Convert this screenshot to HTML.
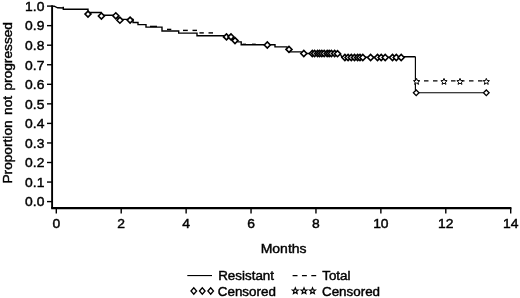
<!DOCTYPE html>
<html><head><meta charset="utf-8"><title>Proportion not progressed</title>
<style>html,body{margin:0;padding:0;background:#fff}svg{display:block}</style></head>
<body>
<svg width="520" height="298" viewBox="0 0 520 298">
<rect width="520" height="298" fill="#fff"/>
<path d="M52.1 5.3V208.2" fill="none" stroke="#000" stroke-width="1.9"/>
<path d="M51.15 208.2H511.45" fill="none" stroke="#000" stroke-width="2.2"/>
<path d="M47 6.10H52" stroke="#000" stroke-width="1.4"/>
<path d="M47 25.65H52" stroke="#000" stroke-width="1.4"/>
<path d="M47 45.20H52" stroke="#000" stroke-width="1.4"/>
<path d="M47 64.75H52" stroke="#000" stroke-width="1.4"/>
<path d="M47 84.30H52" stroke="#000" stroke-width="1.4"/>
<path d="M47 103.85H52" stroke="#000" stroke-width="1.4"/>
<path d="M47 123.40H52" stroke="#000" stroke-width="1.4"/>
<path d="M47 142.95H52" stroke="#000" stroke-width="1.4"/>
<path d="M47 162.50H52" stroke="#000" stroke-width="1.4"/>
<path d="M47 182.05H52" stroke="#000" stroke-width="1.4"/>
<path d="M47 201.60H52" stroke="#000" stroke-width="1.4"/>
<path d="M56.30 208.3V213.5" stroke="#000" stroke-width="1.4"/>
<path d="M121.21 208.3V213.5" stroke="#000" stroke-width="1.4"/>
<path d="M186.13 208.3V213.5" stroke="#000" stroke-width="1.4"/>
<path d="M251.04 208.3V213.5" stroke="#000" stroke-width="1.4"/>
<path d="M315.96 208.3V213.5" stroke="#000" stroke-width="1.4"/>
<path d="M380.87 208.3V213.5" stroke="#000" stroke-width="1.4"/>
<path d="M445.79 208.3V213.5" stroke="#000" stroke-width="1.4"/>
<path d="M510.70 208.3V213.5" stroke="#000" stroke-width="1.4"/>
<path d="M52 6.1L54.2 6.2L57.6 7.8L63.3 8.0L63.3 6.7L63.3 9.2L88 9.2L88 12.5L101 12.5L101 15.3L116 15.3L119 19.4L133 19.4L133 22.5L138 22.5L138 24.6L146 24.6L146 27.1L162 27.1L162 31L178.7 31L178.7 33.1L197 33.1L197 35.8L224 35.8L238 41.9L241.2 41.9L241.2 44.8L275 44.8L275 46.9L287 46.9L289 51.9L301 51.9L304 53.5L340 53.5L342 57.3L401 57.3L402 56.7L415.5 56.7" fill="none" stroke="#000" stroke-width="1.4" stroke-linejoin="miter"/>
<path d="M415.4 56.7V90M419 92.7H483.5" fill="none" stroke="#000" stroke-width="1.15"/>
<path d="M167 29.4H171.3" stroke="#000" stroke-width="1.4"/>
<path d="M183 30.4H187.8" stroke="#000" stroke-width="1.4"/>
<path d="M192.5 30.4H197" stroke="#000" stroke-width="1.4"/>
<path d="M199.4 32.9H203.8" stroke="#000" stroke-width="1.4"/>
<path d="M208.5 32.9H213" stroke="#000" stroke-width="1.4"/>
<path d="M150 26.4H157" stroke="#000" stroke-width="1.4"/>
<path d="M242.5 44.3H246" stroke="#000" stroke-width="1.4"/>
<path d="M252 44.3H255.6" stroke="#000" stroke-width="1.4"/>
<path d="M415 80.8H487" stroke="#000" stroke-width="1.2" stroke-dasharray="4.5 4.5" fill="none"/>
<path d="M85.00 14.10L88.00 11.10L91.00 14.10L88.00 17.10Z" fill="#fff" stroke="#000" stroke-width="1.6"/>
<path d="M98.40 16.00L101.40 13.00L104.40 16.00L101.40 19.00Z" fill="#fff" stroke="#000" stroke-width="1.6"/>
<path d="M112.80 15.80L115.80 12.80L118.80 15.80L115.80 18.80Z" fill="#fff" stroke="#000" stroke-width="1.6"/>
<path d="M116.90 20.20L119.90 17.20L122.90 20.20L119.90 23.20Z" fill="#fff" stroke="#000" stroke-width="1.6"/>
<path d="M127.10 20.10L130.10 17.10L133.10 20.10L130.10 23.10Z" fill="#fff" stroke="#000" stroke-width="1.6"/>
<path d="M223.50 36.90L226.50 33.90L229.50 36.90L226.50 39.90Z" fill="#fff" stroke="#000" stroke-width="1.6"/>
<path d="M228.00 36.90L231.00 33.90L234.00 36.90L231.00 39.90Z" fill="#fff" stroke="#000" stroke-width="1.6"/>
<path d="M232.00 40.60L235.00 37.60L238.00 40.60L235.00 43.60Z" fill="#fff" stroke="#000" stroke-width="1.6"/>
<path d="M264.30 45.00L267.30 42.00L270.30 45.00L267.30 48.00Z" fill="#fff" stroke="#000" stroke-width="1.6"/>
<path d="M286.00 49.40L289.00 46.40L292.00 49.40L289.00 52.40Z" fill="#fff" stroke="#000" stroke-width="1.6"/>
<path d="M300.80 53.50L303.80 50.50L306.80 53.50L303.80 56.50Z" fill="#fff" stroke="#000" stroke-width="1.6"/>
<path d="M309.30 53.50L312.30 50.50L315.30 53.50L312.30 56.50Z" fill="#fff" stroke="#000" stroke-width="1.6"/>
<path d="M311.60 53.50L314.60 50.50L317.60 53.50L314.60 56.50Z" fill="#fff" stroke="#000" stroke-width="1.6"/>
<path d="M314.60 53.50L317.60 50.50L320.60 53.50L317.60 56.50Z" fill="#fff" stroke="#000" stroke-width="1.6"/>
<path d="M316.60 53.50L319.60 50.50L322.60 53.50L319.60 56.50Z" fill="#fff" stroke="#000" stroke-width="1.6"/>
<path d="M318.80 53.50L321.80 50.50L324.80 53.50L321.80 56.50Z" fill="#fff" stroke="#000" stroke-width="1.6"/>
<path d="M321.20 53.50L324.20 50.50L327.20 53.50L324.20 56.50Z" fill="#fff" stroke="#000" stroke-width="1.6"/>
<path d="M324.20 53.50L327.20 50.50L330.20 53.50L327.20 56.50Z" fill="#fff" stroke="#000" stroke-width="1.6"/>
<path d="M326.20 53.50L329.20 50.50L332.20 53.50L329.20 56.50Z" fill="#fff" stroke="#000" stroke-width="1.6"/>
<path d="M328.40 53.50L331.40 50.50L334.40 53.50L331.40 56.50Z" fill="#fff" stroke="#000" stroke-width="1.6"/>
<path d="M331.60 53.50L334.60 50.50L337.60 53.50L334.60 56.50Z" fill="#fff" stroke="#000" stroke-width="1.6"/>
<path d="M334.50 53.70L337.50 50.70L340.50 53.70L337.50 56.70Z" fill="#fff" stroke="#000" stroke-width="1.6"/>
<path d="M341.90 57.50L344.90 54.50L347.90 57.50L344.90 60.50Z" fill="#fff" stroke="#000" stroke-width="1.6"/>
<path d="M345.10 57.50L348.10 54.50L351.10 57.50L348.10 60.50Z" fill="#fff" stroke="#000" stroke-width="1.6"/>
<path d="M348.30 57.50L351.30 54.50L354.30 57.50L351.30 60.50Z" fill="#fff" stroke="#000" stroke-width="1.6"/>
<path d="M351.50 57.50L354.50 54.50L357.50 57.50L354.50 60.50Z" fill="#fff" stroke="#000" stroke-width="1.6"/>
<path d="M354.60 57.50L357.60 54.50L360.60 57.50L357.60 60.50Z" fill="#fff" stroke="#000" stroke-width="1.6"/>
<path d="M357.00 57.50L360.00 54.50L363.00 57.50L360.00 60.50Z" fill="#fff" stroke="#000" stroke-width="1.6"/>
<path d="M359.80 57.50L362.80 54.50L365.80 57.50L362.80 60.50Z" fill="#fff" stroke="#000" stroke-width="1.6"/>
<path d="M367.60 57.50L370.60 54.50L373.60 57.50L370.60 60.50Z" fill="#fff" stroke="#000" stroke-width="1.6"/>
<path d="M374.50 57.50L377.50 54.50L380.50 57.50L377.50 60.50Z" fill="#fff" stroke="#000" stroke-width="1.6"/>
<path d="M378.20 57.50L381.20 54.50L384.20 57.50L381.20 60.50Z" fill="#fff" stroke="#000" stroke-width="1.6"/>
<path d="M382.20 57.50L385.20 54.50L388.20 57.50L385.20 60.50Z" fill="#fff" stroke="#000" stroke-width="1.6"/>
<path d="M389.50 57.50L392.50 54.50L395.50 57.50L392.50 60.50Z" fill="#fff" stroke="#000" stroke-width="1.6"/>
<path d="M393.30 57.50L396.30 54.50L399.30 57.50L396.30 60.50Z" fill="#fff" stroke="#000" stroke-width="1.6"/>
<path d="M398.20 57.50L401.20 54.50L404.20 57.50L401.20 60.50Z" fill="#fff" stroke="#000" stroke-width="1.6"/>
<polygon points="416.60,78.40 417.45,80.53 419.74,80.68 417.98,82.15 418.54,84.37 416.60,83.15 414.66,84.37 415.22,82.15 413.46,80.68 415.75,80.53" fill="#fff" stroke="#000" stroke-width="1.0"/>
<polygon points="444.00,78.40 444.85,80.53 447.14,80.68 445.38,82.15 445.94,84.37 444.00,83.15 442.06,84.37 442.62,82.15 440.86,80.68 443.15,80.53" fill="#fff" stroke="#000" stroke-width="1.0"/>
<polygon points="460.00,78.40 460.85,80.53 463.14,80.68 461.38,82.15 461.94,84.37 460.00,83.15 458.06,84.37 458.62,82.15 456.86,80.68 459.15,80.53" fill="#fff" stroke="#000" stroke-width="1.0"/>
<polygon points="486.30,78.40 487.15,80.53 489.44,80.68 487.68,82.15 488.24,84.37 486.30,83.15 484.36,84.37 484.92,82.15 483.16,80.68 485.45,80.53" fill="#fff" stroke="#000" stroke-width="1.0"/>
<path d="M413.40 92.80L416.20 90.00L419.00 92.80L416.20 95.60Z" fill="#fff" stroke="#000" stroke-width="1.3"/>
<path d="M483.50 92.80L486.30 90.00L489.10 92.80L486.30 95.60Z" fill="#fff" stroke="#000" stroke-width="1.3"/>
<path d="M187.3 275.55H212" stroke="#000" stroke-width="1.15"/>
<path d="M191.00 291.00L193.80 287.80L196.60 291.00L193.80 294.20Z" fill="#fff" stroke="#000" stroke-width="1.3"/>
<path d="M199.50 291.00L202.30 287.80L205.10 291.00L202.30 294.20Z" fill="#fff" stroke="#000" stroke-width="1.3"/>
<path d="M207.90 291.00L210.70 287.80L213.50 291.00L210.70 294.20Z" fill="#fff" stroke="#000" stroke-width="1.3"/>
<path d="M292.6 275.7H316.3" stroke="#000" stroke-width="1.3" stroke-dasharray="4.9 4.45"/>
<polygon points="295.30,287.80 296.12,289.87 298.34,290.01 296.63,291.43 297.18,293.59 295.30,292.40 293.42,293.59 293.97,291.43 292.26,290.01 294.48,289.87" fill="#fff" stroke="#000" stroke-width="1.15"/>
<polygon points="304.00,287.80 304.82,289.87 307.04,290.01 305.33,291.43 305.88,293.59 304.00,292.40 302.12,293.59 302.67,291.43 300.96,290.01 303.18,289.87" fill="#fff" stroke="#000" stroke-width="1.15"/>
<polygon points="312.50,287.80 313.32,289.87 315.54,290.01 313.83,291.43 314.38,293.59 312.50,292.40 310.62,293.59 311.17,291.43 309.46,290.01 311.68,289.87" fill="#fff" stroke="#000" stroke-width="1.15"/>
<g font-family="'Liberation Sans', Arial, Helvetica, sans-serif" fill="#000" stroke="#000" stroke-width="0.45">
<text transform="translate(44.4 10.9) scale(1 0.94)" text-anchor="end" font-size="13.9">1.0</text>
<text transform="translate(44.4 30.45) scale(1 0.94)" text-anchor="end" font-size="13.9">0.9</text>
<text transform="translate(44.4 50.0) scale(1 0.94)" text-anchor="end" font-size="13.9">0.8</text>
<text transform="translate(44.4 69.55) scale(1 0.94)" text-anchor="end" font-size="13.9">0.7</text>
<text transform="translate(44.4 89.1) scale(1 0.94)" text-anchor="end" font-size="13.9">0.6</text>
<text transform="translate(44.4 108.65) scale(1 0.94)" text-anchor="end" font-size="13.9">0.5</text>
<text transform="translate(44.4 128.2) scale(1 0.94)" text-anchor="end" font-size="13.9">0.4</text>
<text transform="translate(44.4 147.75) scale(1 0.94)" text-anchor="end" font-size="13.9">0.3</text>
<text transform="translate(44.4 167.3) scale(1 0.94)" text-anchor="end" font-size="13.9">0.2</text>
<text transform="translate(44.4 186.85) scale(1 0.94)" text-anchor="end" font-size="13.9">0.1</text>
<text transform="translate(44.4 206.4) scale(1 0.94)" text-anchor="end" font-size="13.9">0.0</text>
<text transform="translate(56.3 227.7) scale(1 0.95)" text-anchor="middle" font-size="13.9">0</text>
<text transform="translate(121.21 227.7) scale(1 0.95)" text-anchor="middle" font-size="13.9">2</text>
<text transform="translate(186.13 227.7) scale(1 0.95)" text-anchor="middle" font-size="13.9">4</text>
<text transform="translate(251.04 227.7) scale(1 0.95)" text-anchor="middle" font-size="13.9">6</text>
<text transform="translate(315.96 227.7) scale(1 0.95)" text-anchor="middle" font-size="13.9">8</text>
<text transform="translate(380.87 227.7) scale(1 0.95)" text-anchor="middle" font-size="13.9">10</text>
<text transform="translate(445.79 227.7) scale(1 0.95)" text-anchor="middle" font-size="13.9">12</text>
<text transform="translate(510.7 227.7) scale(1 0.95)" text-anchor="middle" font-size="13.9">14</text>
<text transform="translate(283.6 252.6) scale(1 0.92)" text-anchor="middle" font-size="14">Months</text>
<text transform="translate(12.2 102.8) rotate(-90) scale(1 0.92)" text-anchor="middle" font-size="13.7" word-spacing="1.6">Proportion not progressed</text>
<text transform="translate(218.2 280.1) scale(1 0.92)" text-anchor="start" font-size="13.4">Resistant</text>
<text transform="translate(217.8 295.7) scale(1 0.92)" text-anchor="start" font-size="13.4">Censored</text>
<text transform="translate(322.2 280.1) scale(1 0.92)" text-anchor="start" font-size="13.4">Total</text>
<text transform="translate(322.0 295.7) scale(1 0.92)" text-anchor="start" font-size="13.4">Censored</text>
</g>
</svg>
</body></html>
